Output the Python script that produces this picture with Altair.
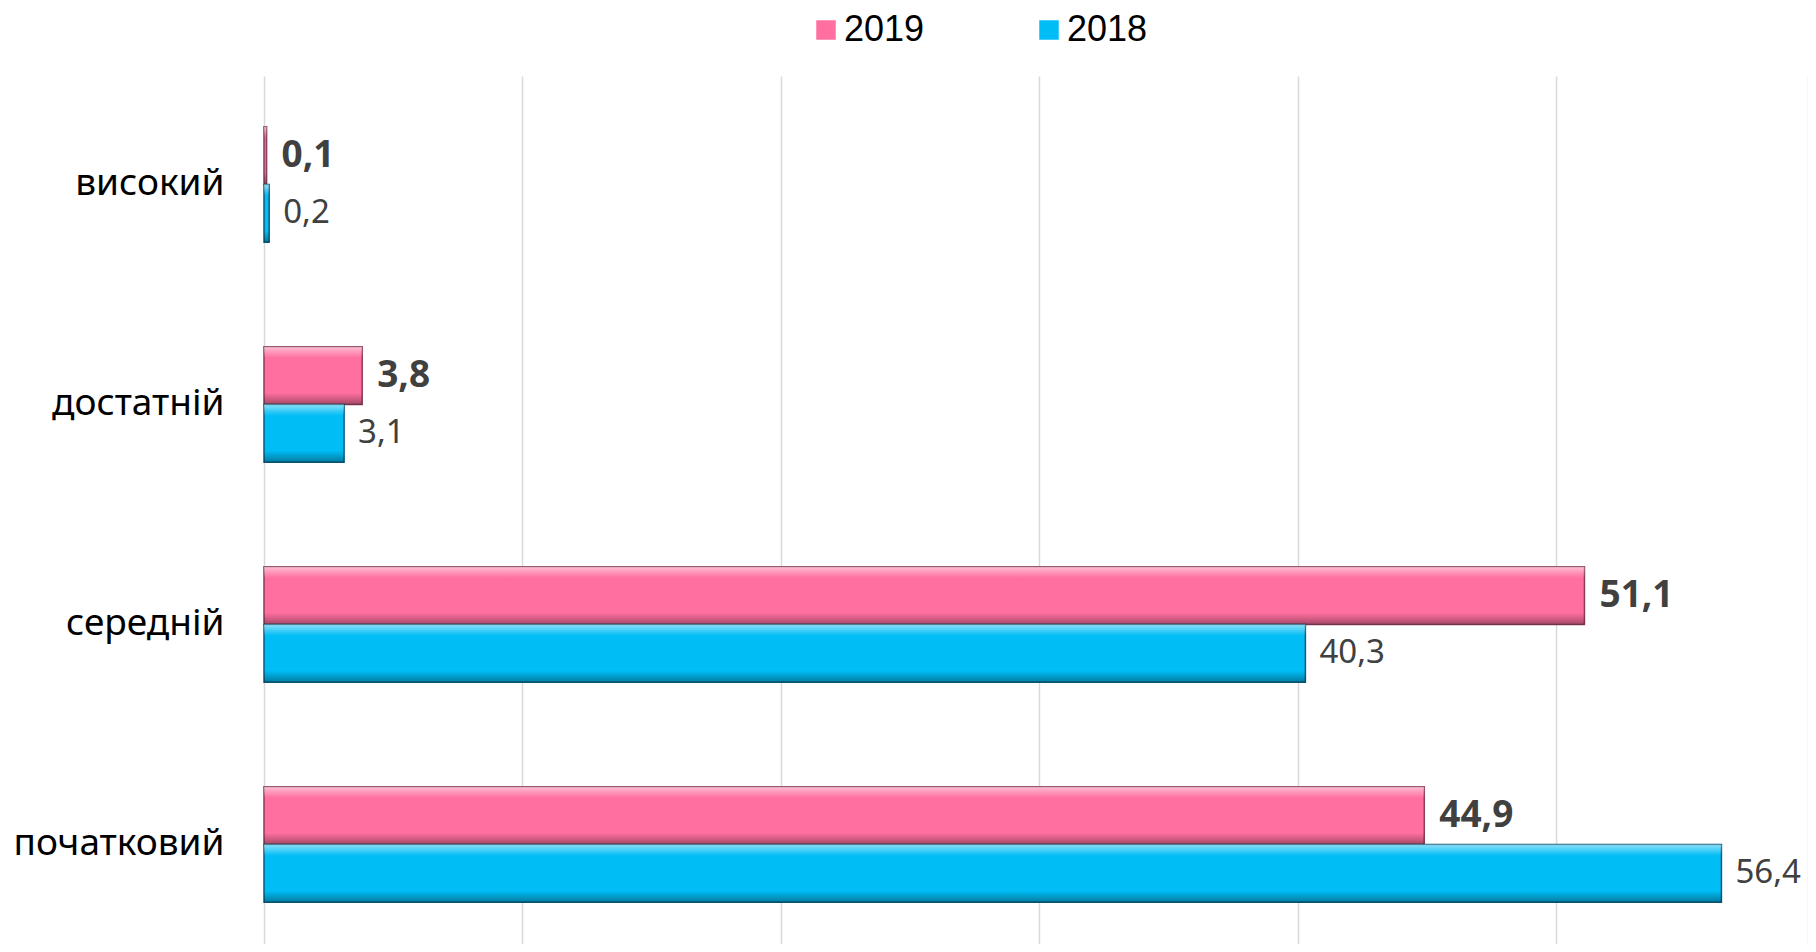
import altair as alt
import pandas as pd

categories = ["високий", "достатній", "середній", "початковий"]
years = ["2019", "2018"]
values_2019 = [0.1, 3.8, 51.1, 44.9]
values_2018 = [0.2, 3.1, 40.3, 56.4]
grid_values = [0, 10, 20, 30, 40, 50, 59.75]

rows = []
for c, v in zip(categories, values_2019):
    rows.append({"cat": c, "year": "2019", "value": v, "label": f"{v:.1f}".replace(".", ",")})
for c, v in zip(categories, values_2018):
    rows.append({"cat": c, "year": "2018", "value": v, "label": f"{v:.1f}".replace(".", ",")})
df = pd.DataFrame(rows)

pink = "#FF6FA0"
cyan = "#00BDF5"

y_enc = alt.Y("cat:N", sort=categories, title=None,
              scale=alt.Scale(paddingInner=0.475, paddingOuter=0.21, align=0.548),
              axis=alt.Axis(domain=False, ticks=False, labelFontSize=37, labelFont="Noto Sans",
                            labelColor="#000000", labelPadding=40, grid=False, labelLimit=0))
x_enc = alt.X("value:Q", title=None, scale=alt.Scale(domain=[0, 59.75], nice=False),
              axis=alt.Axis(values=grid_values, labels=False, ticks=False,
                            domain=False, grid=True, gridColor="#D9D9D9", gridWidth=1.5))
yoff = alt.YOffset("year:N", sort=years, scale=alt.Scale(domain=years))

base = alt.Chart(df)

bars = base.mark_bar(strokeWidth=1.5, cornerRadius=0).encode(
    x=x_enc, y=y_enc, yOffset=yoff,
    color=alt.Color("year:N", sort=years,
                    scale=alt.Scale(domain=years, range=[pink, cyan]),
                    legend=alt.Legend(title=None, orient="none", legendX=544, legendY=-64,
                                      direction="horizontal", symbolType="square",
                                      symbolSize=380, labelFontSize=36, labelFont="Liberation Sans",
                                      labelColor="#000000", columnPadding=106, labelOffset=0,
                                      symbolStrokeWidth=0, padding=0)),
    stroke=alt.Stroke("year:N", sort=years,
                      scale=alt.Scale(domain=years, range=["#8A3D5C", "#0A5C80"]), legend=None),
)

shade = base.mark_bar(color=alt.Gradient(
    gradient="linear", x1=0, x2=0, y1=0, y2=1,
    stops=[alt.GradientStop(offset=0, color="rgba(255,255,255,0.55)"),
           alt.GradientStop(offset=0.14, color="rgba(255,255,255,0.15)"),
           alt.GradientStop(offset=0.2, color="rgba(255,255,255,0)"),
           alt.GradientStop(offset=0.8, color="rgba(0,0,0,0)"),
           alt.GradientStop(offset=1, color="rgba(0,0,0,0.35)")])).encode(
    x=x_enc, y=y_enc, yOffset=yoff)

text_2019 = base.transform_filter(alt.datum.year == "2019").mark_text(
    align="left", baseline="middle", dx=15, fontSize=37, font="Noto Sans",
    fontWeight="bold", color="#404040").encode(
    x=x_enc, y=y_enc, yOffset=yoff, text="label:N")

text_2018 = base.transform_filter(alt.datum.year == "2018").mark_text(
    align="left", baseline="middle", dx=14, fontSize=33, font="Noto Sans",
    color="#404040").encode(
    x=x_enc, y=y_enc, yOffset=yoff, text="label:N")

chart = alt.layer(bars, shade, text_2019, text_2018).properties(
    width=1544, height=868,
    autosize=alt.AutoSizeParams(type="none"),
    padding={"left": 256, "top": 68, "right": 0, "bottom": 0},
).configure(background="white").configure_view(stroke=None)

chart.save("out.html", embed_options={"renderer": "svg", "actions": False})
